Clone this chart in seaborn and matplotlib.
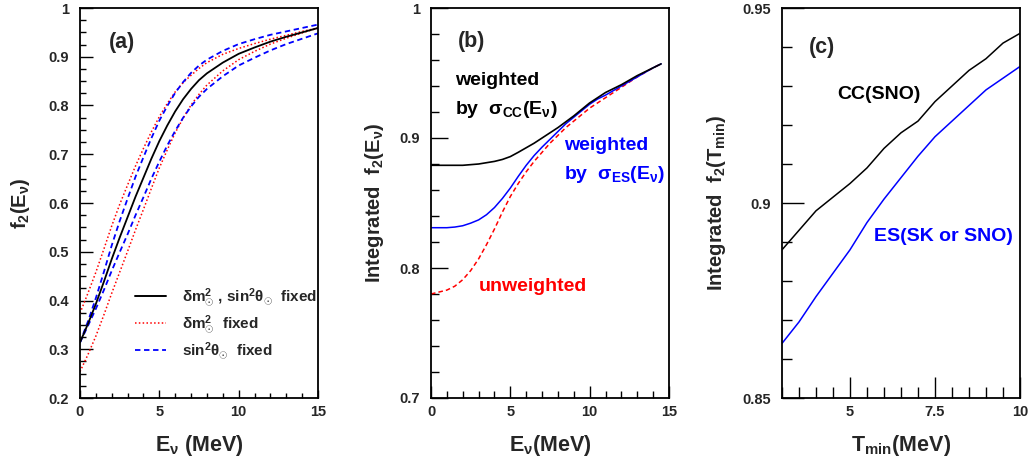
import numpy as np
import pandas as pd
import matplotlib
matplotlib.use("Agg")
import matplotlib.pyplot as plt
from matplotlib.ticker import MultipleLocator, FuncFormatter
from matplotlib.lines import Line2D
import seaborn as sns

# ---------------- data ----------------
# panel (a): f2(E_nu)
Ea = [0, 0.5, 1, 1.5, 2, 2.5, 3, 3.5, 4, 4.5, 5, 5.5, 6, 6.5, 7, 7.5, 8, 9, 10, 11, 12, 13, 14, 15]
f2_both = [0.314, 0.352, 0.393, 0.438, 0.485, 0.529, 0.571, 0.613, 0.652, 0.691, 0.727, 0.759, 0.788, 0.813,
           0.834, 0.852, 0.866, 0.888, 0.906, 0.919, 0.931, 0.941, 0.950, 0.959]
f2_dm_hi = [0.374, 0.415, 0.458, 0.505, 0.553, 0.597, 0.637, 0.676, 0.712, 0.746, 0.777, 0.804, 0.828, 0.847,
            0.862, 0.876, 0.888, 0.905, 0.917, 0.927, 0.936, 0.944, 0.952, 0.959]
f2_dm_lo = [0.254, 0.289, 0.327, 0.370, 0.415, 0.458, 0.501, 0.545, 0.587, 0.630, 0.672, 0.709, 0.744, 0.774,
            0.801, 0.823, 0.842, 0.871, 0.894, 0.911, 0.926, 0.938, 0.949, 0.959]
f2_th_hi = [0.314, 0.357, 0.405, 0.458, 0.513, 0.563, 0.609, 0.654, 0.694, 0.733, 0.769, 0.799, 0.826, 0.848,
            0.867, 0.882, 0.894, 0.912, 0.926, 0.936, 0.945, 0.952, 0.959, 0.966]
f2_th_lo = [0.314, 0.348, 0.383, 0.421, 0.461, 0.499, 0.536, 0.575, 0.612, 0.650, 0.685, 0.718, 0.748, 0.775,
            0.798, 0.818, 0.834, 0.860, 0.882, 0.898, 0.913, 0.926, 0.937, 0.948]

# panel (b): integrated f2(E_nu)
Eb = [0, 1, 1.5, 2, 2.5, 3, 3.5, 4, 4.5, 5, 5.5, 6, 6.5, 7, 7.5, 8, 8.5, 9, 9.5, 10, 10.5, 11, 12, 13, 14, 14.5]
int_cc = [0.879, 0.879, 0.879, 0.879, 0.8795, 0.880, 0.881, 0.882, 0.8835, 0.8857, 0.889, 0.8925, 0.896, 0.900,
          0.904, 0.908, 0.9125, 0.917, 0.922, 0.927, 0.931, 0.935, 0.941, 0.948, 0.954, 0.957]
int_es = [0.831, 0.831, 0.8315, 0.8325, 0.8345, 0.837, 0.841, 0.8465, 0.8535, 0.8615, 0.8705, 0.879, 0.8865, 0.893,
          0.899, 0.905, 0.911, 0.916, 0.921, 0.926, 0.930, 0.933, 0.940, 0.947, 0.954, 0.957]
int_unw = [0.780, 0.783, 0.786, 0.791, 0.798, 0.807, 0.818, 0.830, 0.843, 0.855, 0.865, 0.874, 0.882, 0.889,
           0.896, 0.902, 0.908, 0.913, 0.918, 0.923, 0.927, 0.931, 0.939, 0.947, 0.954, 0.957]

# panel (c): integrated f2(T_min)
Tc = [3, 3.5, 4, 4.5, 5, 5.5, 6, 6.5, 7, 7.5, 8, 8.5, 9, 9.5, 10]
tc_cc = [0.888, 0.893, 0.898, 0.9015, 0.905, 0.909, 0.914, 0.918, 0.921, 0.926, 0.930, 0.934, 0.937, 0.941, 0.9435]
tc_es = [0.864, 0.8695, 0.876, 0.882, 0.888, 0.895, 0.901, 0.9065, 0.912, 0.917, 0.921, 0.925, 0.929, 0.932, 0.935]

# ---------------- style ----------------
sns.set_style("white")
plt.rcParams['font.family'] = ['Liberation Sans', 'DejaVu Sans']
plt.rcParams['font.weight'] = 'bold'
plt.rcParams['axes.labelweight'] = 'bold'
plt.rcParams['mathtext.fontset'] = 'custom'
plt.rcParams['mathtext.rm'] = 'Liberation Sans:bold'
plt.rcParams['mathtext.it'] = 'Liberation Sans:bold'
plt.rcParams['mathtext.bf'] = 'Liberation Sans:bold'
plt.rcParams['mathtext.sf'] = 'Liberation Sans:bold'
plt.rcParams['mathtext.default'] = 'rm'

fig = plt.figure(figsize=(10.29, 4.61), dpi=100)
W, H = 1029, 461
def axes_px(l, r, t, b):
    return fig.add_axes([l / W, 1 - b / H, (r - l) / W, (b - t) / H])

axA = axes_px(80, 318, 8, 398)
axB = axes_px(431, 669, 8, 398)
axC = axes_px(782, 1020, 8, 398)

def fmt(v, pos):
    return f"{v:.2f}".rstrip('0').rstrip('.')

def style_ax(ax, xmaj, xmin, ymaj, ymin, ylen=9.5, xlen=7):
    for sp in ax.spines.values():
        sp.set_linewidth(1.3)
        sp.set_color('black')
        sp.set_visible(True)
    ax.xaxis.set_major_locator(MultipleLocator(xmaj))
    ax.xaxis.set_minor_locator(MultipleLocator(xmin))
    ax.yaxis.set_major_locator(MultipleLocator(ymaj))
    ax.yaxis.set_minor_locator(MultipleLocator(ymin))
    ax.xaxis.set_major_formatter(FuncFormatter(fmt))
    ax.yaxis.set_major_formatter(FuncFormatter(fmt))
    ax.tick_params(axis='both', which='both', direction='in', top=False, right=False,
                   bottom=True, left=True, color='black', width=1.0, labelsize=10.5)
    ax.tick_params(axis='y', which='major', length=ylen, pad=8)
    ax.tick_params(axis='y', which='minor', length=ylen * 0.45)
    ax.tick_params(axis='x', which='major', length=xlen, pad=5)
    ax.tick_params(axis='x', which='minor', length=xlen * 0.55)
    for lab in ax.get_xticklabels() + ax.get_yticklabels():
        lab.set_fontweight('bold')

DOT = (0, (1, 1.5))
DASH = (0, (3, 2))

# ---------------- panel (a) ----------------
dfa = pd.DataFrame({'E': Ea, 'both': f2_both, 'dm_hi': f2_dm_hi, 'dm_lo': f2_dm_lo,
                    'th_hi': f2_th_hi, 'th_lo': f2_th_lo})
sns.lineplot(data=dfa, x='E', y='dm_hi', ax=axA, color='red', lw=1.1, linestyle=DOT)
sns.lineplot(data=dfa, x='E', y='dm_lo', ax=axA, color='red', lw=1.1, linestyle=DOT)
sns.lineplot(data=dfa, x='E', y='th_hi', ax=axA, color='blue', lw=1.3, linestyle=DASH)
sns.lineplot(data=dfa, x='E', y='th_lo', ax=axA, color='blue', lw=1.3, linestyle=DASH)
sns.lineplot(data=dfa, x='E', y='both', ax=axA, color='black', lw=1.3)
axA.set_xlim(0, 15)
axA.set_ylim(0.2, 1.0)
style_ax(axA, 5, 1, 0.1, 0.025, ylen=9.5, xlen=6)
axA.set_xlabel(r'E$_\nu$ (MeV)', fontsize=15.5, fontweight='bold', labelpad=10)
axA.set_ylabel(r'f$_2$(E$_\nu$)', fontsize=14.5, fontweight='bold', labelpad=12)
axA.text(2.65, 0.93, '(a)', fontsize=15.5, fontweight='bold', ha='center', va='center')

handles = [Line2D([], [], color='black', lw=1.4),
           Line2D([], [], color='red', lw=1.1, linestyle=DOT),
           Line2D([], [], color='blue', lw=1.3, linestyle=DASH)]
labels = [r'$\delta$m$^2_{\odot}$ , sin$^2\theta_{\odot}$  fixed',
          r'$\delta$m$^2_{\odot}$  fixed',
          r'sin$^2\theta_{\odot}$  fixed']
leg = axA.legend(handles, labels, loc='center left', bbox_to_anchor=(0.231, 0.19),
                 frameon=False, fontsize=11, handlelength=2.0, handletextpad=1.1,
                 labelspacing=0.3, borderpad=0, borderaxespad=0)
for t in leg.get_texts():
    t.set_fontweight('bold')

# ---------------- panel (b) ----------------
dfb = pd.DataFrame({'E': Eb, 'cc': int_cc, 'es': int_es, 'unw': int_unw})
sns.lineplot(data=dfb, x='E', y='unw', ax=axB, color='red', lw=1.1, linestyle=DASH)
sns.lineplot(data=dfb, x='E', y='es', ax=axB, color='blue', lw=1.1)
sns.lineplot(data=dfb, x='E', y='cc', ax=axB, color='black', lw=1.2)
axB.set_xlim(0, 15)
axB.set_ylim(0.7, 1.0)
style_ax(axB, 5, 1, 0.1, 0.02, ylen=12, xlen=9)
axB.set_xlabel(r'E$_\nu$(MeV)', fontsize=15.5, fontweight='bold', labelpad=10)
axB.set_ylabel(r'Integrated  f$_2$(E$_\nu$)', fontsize=14.5, fontweight='bold', labelpad=10)
axB.text(2.58, 0.974, '(b)', fontsize=15.5, fontweight='bold', ha='center', va='center')
axB.text(1.51, 0.9446, 'weighted', fontsize=14, fontweight='bold', ha='left', va='center', color='black')
axB.text(1.51, 0.922, r'by  $\sigma_{CC}$(E$_\nu$)', fontsize=14, fontweight='bold', ha='left', va='center', color='black')
axB.text(8.38, 0.8946, 'weighted', fontsize=14, fontweight='bold', ha='left', va='center', color='blue')
axB.text(8.38, 0.872, r'by  $\sigma_{ES}$(E$_\nu$)', fontsize=14, fontweight='bold', ha='left', va='center', color='blue')
axB.text(3.02, 0.7854, 'unweighted', fontsize=14, fontweight='bold', ha='left', va='center', color='red')

# ---------------- panel (c) ----------------
dfc = pd.DataFrame({'T': Tc, 'cc': tc_cc, 'es': tc_es})
sns.lineplot(data=dfc, x='T', y='es', ax=axC, color='blue', lw=1.1)
sns.lineplot(data=dfc, x='T', y='cc', ax=axC, color='black', lw=1.1)
axC.set_xlim(3, 10)
axC.set_ylim(0.85, 0.95)
style_ax(axC, 2.5, 0.5, 0.05, 0.01, ylen=16, xlen=15)
axC.set_xlabel(r'T$_{min}$(MeV)', fontsize=15.5, fontweight='bold', labelpad=10)
axC.set_ylabel(r'Integrated  f$_2$(T$_{min}$)', fontsize=14.5, fontweight='bold', labelpad=10)
axC.text(4.18, 0.94, '(c)', fontsize=15.5, fontweight='bold', ha='center', va='center')
axC.text(4.62, 0.9277, 'CC(SNO)', fontsize=14, fontweight='bold', ha='left', va='center', color='black')
axC.text(5.71, 0.8915, 'ES(SK or SNO)', fontsize=14, fontweight='bold', ha='left', va='center', color='blue')

fig.savefig('out.png', dpi=100)
